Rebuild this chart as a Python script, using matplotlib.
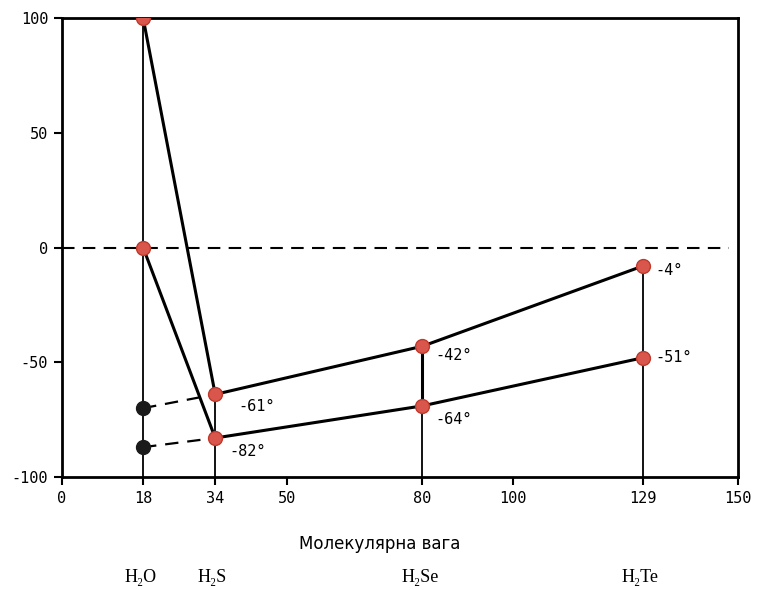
import numpy as np
import matplotlib.pyplot as plt

# molecular weights of the hydrides
masses = [18, 34, 80, 129]
formulas = ["H₂O", "H₂S", "H₂Se", "H₂Te"]

# boiling and melting points as drawn in the picture
boiling = [100, -64, -43, -8]
melting = [0, -83, -69, -48]
boil_labels = [None, "-61°", "-42°", "-4°"]
melt_labels = [None, "-82°", "-64°", "-51°"]

# extrapolated values for water (black dots)
extrap_boil = -70
extrap_melt = -87

xticks = [0, 18, 34, 50, 80, 100, 129, 150]
yticks = [100, 50, 0, -50, -100]

red = "#d9564c"
mono = "DejaVu Sans Mono"

fig = plt.figure(figsize=(7.59, 5.90), dpi=100)
ax = fig.add_axes([0.0817, 0.1915, 0.8905, 0.778])

# vertical guide lines
ax.vlines(masses[0], -100, boiling[0], color="black", lw=1.3, zorder=1)
for m, b in zip(masses[1:], boiling[1:]):
    ax.vlines(m, -100, b, color="black", lw=1.3, zorder=1)
ax.vlines(masses[2], melting[2], boiling[2], color="black", lw=2.2, zorder=1)

# zero line
ax.plot([0, 148], [0, 0], color="black", lw=1.5, ls=(0, (6, 4)), zorder=1)

# curves
ax.plot(masses, boiling, color="black", lw=2.2, zorder=2)
ax.plot(masses, melting, color="black", lw=2.2, zorder=2)

# extrapolation to water
ax.plot([masses[0], masses[1]], [extrap_boil, boiling[1]], color="black", lw=1.6,
        ls=(0, (6, 4)), zorder=2)
ax.plot([masses[0], masses[1]], [extrap_melt, melting[1]], color="black", lw=1.6,
        ls=(0, (6, 4)), zorder=2)
ax.plot([masses[0], masses[0]], [extrap_boil, extrap_melt], "o", color="#1a1a1a",
        ms=10, zorder=3)

ax.plot(masses, boiling, "o", color=red, mec="#c0392b", ms=10, zorder=3)
ax.plot(masses, melting, "o", color=red, mec="#c0392b", ms=10, zorder=3)

# value labels
boil_off = [None, (17, -9), (9, -7), (9, -3)]
melt_off = [None, (10, -10), (9, -10), (9, 0)]
for m, v, lab, off in zip(masses, boiling, boil_labels, boil_off):
    if lab:
        ax.annotate(lab, (m, v), xytext=off, textcoords="offset points",
                    ha="left", va="center", fontsize=11, family=mono)
for m, v, lab, off in zip(masses, melting, melt_labels, melt_off):
    if lab:
        ax.annotate(lab, (m, v), xytext=off, textcoords="offset points",
                    ha="left", va="center", fontsize=11, family=mono)

ax.set_xlim(0, 150)
ax.set_ylim(-100, 100)
ax.set_xticks(xticks)
ax.set_yticks(yticks)
ax.set_xticklabels([str(t) for t in xticks], family=mono, fontsize=11)
ax.set_yticklabels([str(t) for t in yticks], family=mono, fontsize=11)
ax.tick_params(direction="out", length=6, width=1.5, pad=4)
for s in ax.spines.values():
    s.set_linewidth(2)

ax.text(0.47, -0.145, "Молекулярна вага", transform=ax.transAxes, ha="center",
        va="center", fontsize=12, family="DejaVu Sans")

for m, f in zip(masses, formulas):
    ax.annotate(f, (m, -100), xytext=(-2, -72), textcoords="offset points",
                ha="center", va="center", fontsize=13, family="Liberation Serif",
                annotation_clip=False)

fig.savefig("out.png", dpi=100)
